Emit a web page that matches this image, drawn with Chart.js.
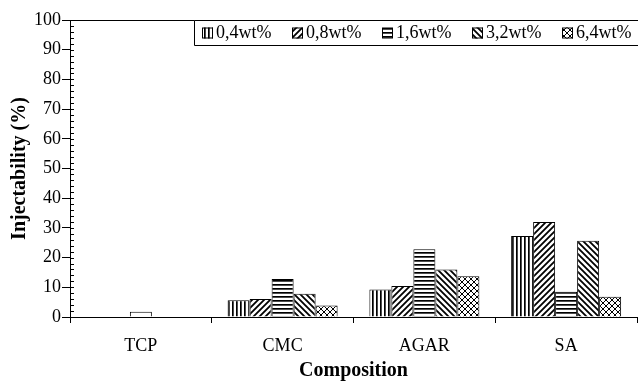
<!DOCTYPE html>
<html>
<head>
<meta charset="utf-8">
<script src="https://cdn.jsdelivr.net/npm/chart.js@4/dist/chart.umd.min.js"></script>
<style>
  html, body { margin: 0; padding: 0; background: #fff; }
  #wrap { width: 638px; height: 383px; }
</style>
</head>
<body>
<div id="wrap"><canvas id="c" width="638" height="383"></canvas></div>
<script>
// ---- data ----
const categories = ['TCP', 'CMC', 'AGAR', 'SA'];
const seriesLabels = ['0,4wt%', '0,8wt%', '1,6wt%', '3,2wt%', '6,4wt%'];
const s04 = [null, 5.6, 9.3, 27.3];
const s08 = [null, 6.1, 10.4, 32.0];
const s16 = [1.8, 12.8, 22.8, 8.5];   // TCP reference bar shown in the middle slot (plain)
const s32 = [null, 7.8, 16.0, 25.7];
const s64 = [null, 3.9, 13.7, 6.8];
const yTicks = { min: 0, max: 100, step: 10, minorStep: 2 };
const plainCategory = 'TCP';

const seriesValues = [s04, s08, s16, s32, s64];
const FONT = '"Liberation Serif", "Times New Roman", serif';

function makePattern(kind) {
  const s = (kind === 'v' || kind === 'h') ? 4 : 6;
  const c = document.createElement('canvas');
  c.width = s; c.height = s;
  const g = c.getContext('2d');
  g.fillStyle = '#fff'; g.fillRect(0, 0, s, s);
  g.fillStyle = '#000'; g.strokeStyle = '#000';
  if (kind === 'v') { g.fillRect(0, 0, 1.7, s); }
  else if (kind === 'h') { g.fillRect(0, 0, s, 1.7); }
  else {
    const lw = kind === 'x' ? 1 : 1.8;
    g.lineWidth = lw;
    const fwd = () => { g.beginPath(); g.moveTo(-1, s + 1); g.lineTo(s + 1, -1);
      g.moveTo(-1, 1); g.lineTo(1, -1); g.moveTo(s - 1, s + 1); g.lineTo(s + 1, s - 1); g.stroke(); };
    const back = () => { g.beginPath(); g.moveTo(-1, -1); g.lineTo(s + 1, s + 1);
      g.moveTo(-1, s - 1); g.lineTo(1, s + 1); g.moveTo(s - 1, -1); g.lineTo(s + 1, 1); g.stroke(); };
    if (kind === '/') fwd();
    else if (kind === '\\') back();
    else { fwd(); back(); }
  }
  return document.getElementById('c').getContext('2d').createPattern(c, 'repeat');
}
const patterns = ['v', '/', 'h', '\\', 'x'].map(makePattern);

const extras = {
  id: 'extras',
  afterDraw(chart) {
    const { ctx, chartArea: a, scales: { y } } = chart;
    ctx.save();
    ctx.strokeStyle = '#000';
    ctx.lineWidth = 1;
    // top frame line
    ctx.beginPath();
    ctx.moveTo(a.left, Math.round(a.top) + 0.5);
    ctx.lineTo(a.right + 1, Math.round(a.top) + 0.5);
    ctx.stroke();
    // inner minor / major ticks on y axis
    ctx.beginPath();
    for (let v = yTicks.min; v <= yTicks.max; v += yTicks.minorStep) {
      const py = Math.round(y.getPixelForValue(v)) + 0.5;
      ctx.moveTo(a.left, py);
      ctx.lineTo(a.left + 4, py);
    }
    ctx.stroke();

    // legend box
    ctx.font = '18px ' + FONT;
    const step = 90;
    const boxX = a.right + 1 - 444;
    const boxY = Math.round(a.top) + 0.5;
    ctx.fillStyle = '#fff';
    ctx.fillRect(boxX, boxY, 446, 25);
    ctx.beginPath();
    ctx.rect(Math.round(boxX) + 0.5, boxY, 446, 25);
    ctx.stroke();
    seriesLabels.forEach((lab, i) => {
      const x = Math.round(boxX) + 8 + i * step;
      const yy = boxY + 7;
      ctx.fillStyle = patterns[i];
      ctx.fillRect(x, yy, 11, 11);
      ctx.strokeRect(x + 0.5, yy + 0.5, 10, 10);
      ctx.fillStyle = '#000';
      ctx.textBaseline = 'middle';
      ctx.textAlign = 'left';
      ctx.fillText(lab, x + 14, boxY + 13);
    });
    ctx.restore();
  }
};

new Chart(document.getElementById('c'), {
  type: 'bar',
  data: {
    labels: categories,
    datasets: seriesLabels.map((lab, i) => ({
      label: lab,
      data: seriesValues[i],
      backgroundColor: (ctx) => (categories[ctx.dataIndex] === plainCategory ? '#fff' : patterns[i]),
      borderColor: '#000',
      borderWidth: 1,
      categoryPercentage: 0.776,
      barPercentage: 1.0
    }))
  },
  options: {
    responsive: false,
    devicePixelRatio: 1,
    animation: false,
    layout: { padding: { left: 0, right: 1, top: 20, bottom: 0 } },
    plugins: { legend: { display: false }, tooltip: { enabled: false } },
    scales: {
      x: {
        grid: { offset: true, drawOnChartArea: false, drawTicks: true, tickLength: 6, color: '#000' },
        border: { color: '#000', width: 1 },
        ticks: { color: '#000', font: { family: FONT, size: 18 }, padding: 12 },
        title: { display: true, text: 'Composition', color: '#000',
                 font: { family: FONT, size: 20, weight: 'bold' }, padding: { top: 0, bottom: 0 } },
        afterFit: (s) => { s.height = 66; }
      },
      y: {
        min: yTicks.min, max: yTicks.max,
        ticks: { stepSize: yTicks.step, color: '#000', font: { family: FONT, size: 18 }, padding: 1 },
        grid: { drawOnChartArea: false, drawTicks: true, tickLength: 8, color: '#000' },
        border: { color: '#000', width: 1 },
        title: { display: true, text: 'Injectability (%)', color: '#000',
                 font: { family: FONT, size: 20, weight: 'bold' }, padding: { top: 8, bottom: 0 } },
        afterFit: (s) => { s.width = 70; }
      }
    }
  },
  plugins: [extras]
});
</script>
</body>
</html>
